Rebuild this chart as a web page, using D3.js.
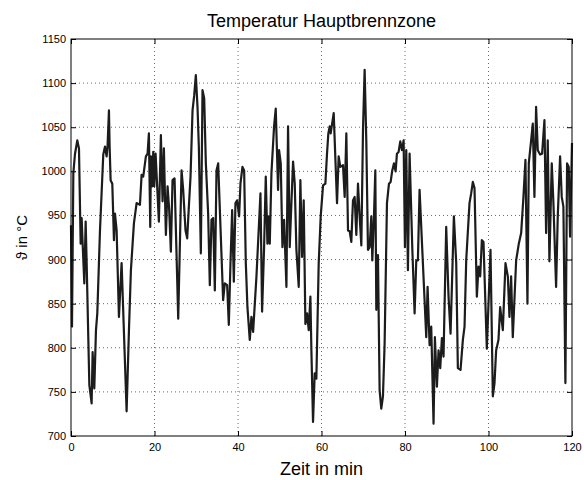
<!DOCTYPE html>
<html>
<head>
<meta charset="utf-8">
<script src="https://cdn.jsdelivr.net/npm/d3@7"></script>
<style>
  body { margin: 0; background: #fff; }
  text { font-family: "Liberation Sans", Arial, Helvetica, sans-serif; }
</style>
</head>
<body>
<div id="chart"></div>
<script>
// Zeit (min) and Temperatur (°C)
const zeit = [
  0,0.24,0.56,0.96,1.51,1.91,2.31,2.55,2.79,3.19,
  3.51,3.75,4.39,4.94,5.18,5.58,5.98,6.30,6.94,7.73,
  8.13,8.53,8.77,9.09,9.25,9.49,9.89,10.29,10.53,10.93,
  11.48,11.72,12.12,13.32,13.88,14.35,15.07,15.71,16.51,16.91,
  17.30,17.94,18.34,18.66,18.98,19.14,19.46,19.70,19.94,20.26,
  21.05,21.53,21.93,22.25,22.49,22.73,23.13,23.52,23.92,24.32,
  24.80,25.68,26.48,26.87,27.43,27.83,28.23,28.63,29.11,29.51,
  29.90,30.30,30.62,31.10,31.50,31.90,32.30,32.85,33.25,33.65,
  34.05,34.45,34.85,35.25,36.44,36.84,37.40,37.80,38.20,38.60,
  39.00,39.39,39.79,40.27,40.59,41.07,41.47,41.87,42.26,42.82,
  43.22,43.62,44.42,45.38,45.77,46.25,46.65,47.05,47.29,47.61,
  48.01,48.64,49.04,49.60,49.84,50.24,50.64,51.04,51.60,51.99,
  52.39,52.79,53.19,53.59,53.99,54.55,54.94,55.34,55.74,56.14,
  56.54,56.94,57.34,57.58,57.97,58.37,58.77,59.33,59.81,60.37,
  60.93,61.32,61.64,61.96,62.20,62.92,63.72,64.11,64.51,65.15,
  65.55,65.95,66.35,66.75,67.14,67.54,67.94,68.34,68.74,69.14,
  69.54,69.94,70.33,70.73,71.13,71.53,71.93,72.17,72.57,72.89,
  73.13,73.52,73.92,74.32,74.72,75.12,75.68,76.16,76.56,76.95,
  77.35,77.75,78.07,78.47,78.87,79.27,79.67,79.98,80.30,80.70,
  81.10,81.74,82.30,82.70,83.09,83.49,85.09,85.41,85.89,86.28,
  86.84,87.16,87.64,88.04,88.44,88.84,89.23,89.87,90.43,90.91,
  91.71,92.27,92.66,93.30,93.86,94.26,94.66,95.45,95.85,96.25,
  96.65,97.21,97.61,98.01,98.41,98.80,99.60,100.48,101.04,101.44,
  101.83,102.39,102.79,103.43,104.07,104.63,105.02,105.42,105.82,106.62,
  107.26,107.82,108.37,108.85,109.33,109.65,110.21,110.61,111.00,111.40,
  111.80,112.36,112.84,113.40,113.80,114.19,114.59,115.15,115.55,116.19,
  116.59,117.15,117.54,117.94,118.42,118.82,119.22,119.54,120
];

const temperatur = [
  939,824,998,1020,1035,1026,918,947,918,873,
  943,896,758,737,795,754,820,839,933,1019,
  1028,1017,1030,1069,1028,990,986,922,952,933,
  835,858,896,728,820,888,941,964,962,996,
  994,1017,1020,1043,937,1017,983,1022,983,1020,
  943,1041,966,1026,975,928,983,956,909,990,
  992,833,1001,979,933,924,960,994,1069,1086,
  1109,1073,1028,907,1092,1083,1009,952,871,945,
  947,865,1001,1009,854,873,871,826,896,956,
  875,964,967,949,986,1005,1001,896,846,809,
  835,818,881,975,841,914,994,918,949,918,
  998,1051,1071,979,1024,1009,914,945,869,1051,
  914,964,1011,986,911,869,990,903,967,827,
  839,820,858,797,716,771,765,896,949,984,
  986,1020,1043,1051,1043,1066,964,1017,1005,1007,
  971,1043,933,932,920,967,971,928,986,949,
  916,1047,1115,1035,911,914,949,899,949,1001,
  843,905,752,731,745,805,964,986,988,1001,
  1009,1000,1020,1022,1034,1024,1035,914,1024,888,
  1020,914,839,899,899,979,812,869,803,824,
  714,812,756,797,777,811,790,937,858,816,
  949,896,777,775,809,824,899,964,975,988,
  981,858,892,881,922,920,799,911,745,760,
  797,809,846,820,896,881,835,881,812,899,
  918,930,971,1013,850,1009,1035,1054,971,1073,
  1024,1019,1020,1058,930,1035,898,1009,964,869,
  949,1017,971,960,760,1009,1005,926,1032
];

const xTicks = [0, 20, 40, 60, 80, 100, 120];
const yTicks = [700, 750, 800, 850, 900, 950, 1000, 1050, 1100, 1150];

const data = zeit.map((t, i) => ({ t, v: temperatur[i] }));

const W = 584, H = 480;
const margin = { top: 39, right: 12, bottom: 44, left: 71 },
      width = W - margin.left - margin.right,
      height = H - margin.top - margin.bottom;

const svgRoot = d3.select("#chart")
  .append("svg")
  .attr("width", W)
  .attr("height", H);

const svg = svgRoot.append("g")
  .attr("transform", `translate(${margin.left},${margin.top})`);

const x = d3.scaleLinear().domain([0, 120]).range([0, width]);
const y = d3.scaleLinear().domain([700, 1150]).range([height, 0]);

// dotted grid
svg.append("g")
  .selectAll("line")
  .data(xTicks.slice(1, -1))
  .enter().append("line")
  .attr("x1", d => x(d)).attr("x2", d => x(d))
  .attr("y1", 0).attr("y2", height)
  .attr("stroke", "#444")
  .attr("stroke-width", 0.8)
  .attr("stroke-dasharray", "1,3");

svg.append("g")
  .selectAll("line")
  .data(yTicks.slice(1, -1))
  .enter().append("line")
  .attr("x1", 0).attr("x2", width)
  .attr("y1", d => y(d)).attr("y2", d => y(d))
  .attr("stroke", "#444")
  .attr("stroke-width", 0.8)
  .attr("stroke-dasharray", "1,3");

// line
const line = d3.line()
  .x(d => x(d.t))
  .y(d => y(d.v));

svg.append("path")
  .datum(data)
  .attr("fill", "none")
  .attr("stroke", "#1c1c1c")
  .attr("stroke-width", 2.2)
  .attr("stroke-linejoin", "round")
  .attr("d", line);

// Axes (ticks pointing inward, like Matlab)
const styleAxis = g => {
  g.select(".domain").remove();
  g.selectAll(".tick line").attr("stroke", "#000");
  g.selectAll(".tick text")
    .style("font-size", "11px")
    .attr("fill", "#000");
};

svg.append("g")
  .attr("transform", `translate(0,${height})`)
  .call(d3.axisBottom(x).tickValues(xTicks).tickSize(-5).tickPadding(7).tickFormat(d3.format("d")))
  .call(styleAxis);

svg.append("g")
  .call(d3.axisTop(x).tickValues(xTicks).tickSize(-5).tickFormat(""))
  .call(styleAxis);

svg.append("g")
  .call(d3.axisLeft(y).tickValues(yTicks).tickSize(-5).tickPadding(5).tickFormat(d3.format("d")))
  .call(styleAxis);

svg.append("g")
  .attr("transform", `translate(${width},0)`)
  .call(d3.axisRight(y).tickValues(yTicks).tickSize(-5).tickFormat(""))
  .call(styleAxis);

// box
svg.append("rect")
  .attr("x", 0).attr("y", 0)
  .attr("width", width).attr("height", height)
  .attr("fill", "none")
  .attr("stroke", "#000")
  .attr("stroke-width", 1);

// Title
svg.append("text")
  .attr("x", width / 2)
  .attr("y", -12)
  .attr("text-anchor", "middle")
  .style("font-size", "18px")
  .text("Temperatur Hauptbrennzone");

// Axis labels
svg.append("text")
  .attr("x", width / 2)
  .attr("y", height + 39)
  .attr("text-anchor", "middle")
  .style("font-size", "18px")
  .text("Zeit in min");

svg.append("text")
  .attr("transform", "rotate(-90)")
  .attr("x", -height / 2)
  .attr("y", -44)
  .attr("text-anchor", "middle")
  .style("font-size", "15px")
  .text("ϑ in °C");
</script>
</body>
</html>
